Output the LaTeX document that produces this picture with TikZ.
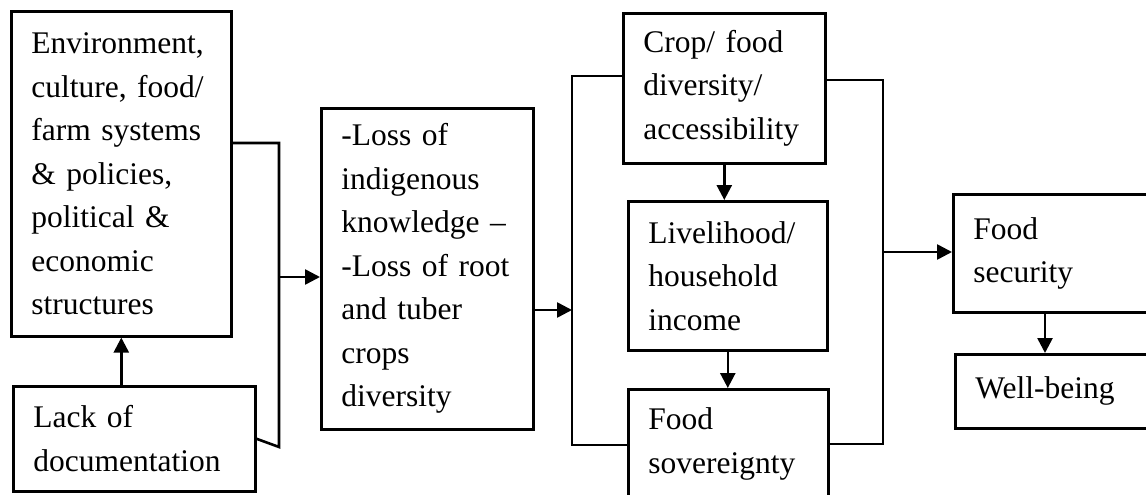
\documentclass[tikz,border=0pt]{standalone}
\usepackage{fontspec}
\setmainfont{Liberation Serif}
\usetikzlibrary{arrows.meta}
\begin{document}
\begin{tikzpicture}[x=1pt, y=-1pt,
  box/.style={draw, line width=2.6pt, anchor=north west, align=left, inner xsep=20pt, inner ysep=2pt, font=\fontsize{31.5}{43.5}\selectfont},
  link/.style={line width=2.6pt},
  arr/.style={link, -{Triangle[length=15pt,width=15pt]}}]
  \clip (0,0) rectangle (1146,495);
  \useasboundingbox (0,0) rectangle (1146,495);
  % Drivers
  \node[box, text width=180pt, minimum height=325pt] (env) at (10,10) {Environment,\\ culture, food/\\ farm systems\\ \& policies,\\ political \&\\ economic\\ structures};
  \node[box, text width=202pt, minimum height=105pt] (lack) at (12,385) {Lack of\\ documentation};
  % Loss
  \node[box, text width=172pt, minimum height=321pt] (loss) at (320,107) {-Loss of\\ indigenous\\ knowledge --\\ -Loss of root\\ and tuber\\ crops\\ diversity};
  % Outcomes
  \node[box, text width=162pt, minimum height=150pt] (crop) at (622,12) {Crop/ food\\ diversity/\\ accessibility};
  \node[box, text width=159pt, minimum height=149pt] (liv) at (627,200) {Livelihood/\\ household\\ income};
  \node[box, text width=160pt, minimum height=109pt] (sov) at (627,388) {Food\\ sovereignty};
  \node[box, text width=170pt, minimum height=118pt] (fsec) at (952,193) {Food\\ security};
  \node[box, text width=170pt, minimum height=74pt] (well) at (954,353) {Well-being};
  % Joints
  \coordinate (ej) at (279,143); \coordinate (ejb) at (279,447); \coordinate (ea) at (279,277);
  \coordinate (lbt) at (572,76); \coordinate (lbb) at (572,445); \coordinate (la) at (572,310);
  \coordinate (rbt) at (883,80); \coordinate (rbb) at (883,444); \coordinate (ra) at (883,252);
  \coordinate (fa) at (1045,0);
  % Flows
  \draw[arr] (lack.north -| env.south) -- (env.south);
  \draw[link] (env.east |- ej) -- (ej) -- (ejb) -- (lack.east);
  \draw[arr] (ea) -- (loss.west |- ea);
  \draw[arr] (loss.east |- la) -- (la);
  \draw[link] (crop.west |- lbt) -- (lbt) -- (lbb) -- (sov.west |- lbb);
  \draw[arr] (crop.south) -- (crop.south |- liv.north);
  \draw[arr] (liv.south) -- (liv.south |- sov.north);
  \draw[link] (crop.east |- rbt) -- (rbt) -- (rbb) -- (sov.east |- rbb);
  \draw[arr] (ra) -- (fsec.west |- ra);
  \draw[arr] (fsec.south -| fa) -- (well.north -| fa);
\end{tikzpicture}
\end{document}
